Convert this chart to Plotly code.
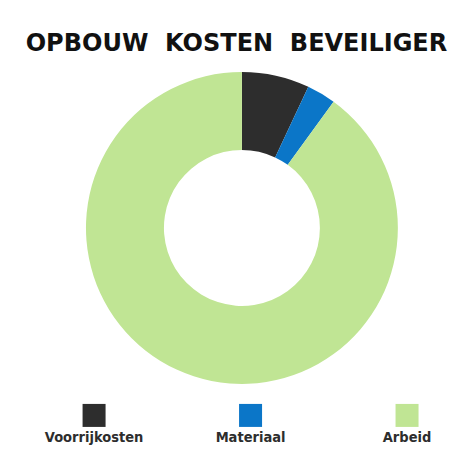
"""
Opbouw kosten beveiliger - donut chart
"""

import plotly.graph_objects as go

labels = ['Voorrijkosten', 'Materiaal', 'Arbeid']
shares = [7, 3, 90]
colors = ['#2d2d2d', '#0b76c8', '#c0e594']
title_text = 'OPBOUW  KOSTEN  BEVEILIGER'

fig = go.Figure()

fig.add_trace(go.Pie(labels=labels, values=shares, hole=0.5, sort=False,
                     direction='clockwise', rotation=0,
                     marker=dict(colors=colors, line=dict(width=0)),
                     textinfo='none', hoverinfo='label+percent',
                     showlegend=False,
                     domain=dict(x=[0.164, 0.823], y=[0.207, 0.865])))

# legend drawn as square markers with the label underneath
fig.add_trace(go.Scatter(x=list(range(len(labels))), y=[0] * len(labels),
                         mode='markers+text', text=labels,
                         textposition='bottom center',
                         marker=dict(symbol='square', size=23, color=colors),
                         textfont=dict(family='DejaVu Sans Condensed',
                                       size=14.5, color='#2d2d2d', weight='bold'),
                         hoverinfo='skip', showlegend=False,
                         xaxis='x', yaxis='y', cliponaxis=False))

fig.update_layout(
    width=474, height=474,
    margin=dict(l=0, r=0, t=0, b=0),
    paper_bgcolor='white', plot_bgcolor='white',
    title=dict(text=title_text, x=0.482, xanchor='center', y=0.926, yanchor='middle',
               font=dict(family='DejaVu Sans', size=24, color='#111111', weight='bold')),
    xaxis=dict(domain=[0, 1], range=[-0.55, 2.479], visible=False, fixedrange=True),
    yaxis=dict(domain=[0.017, 0.217], range=[-1, 0.62], visible=False, fixedrange=True),
)

fig.write_html("out.html")
